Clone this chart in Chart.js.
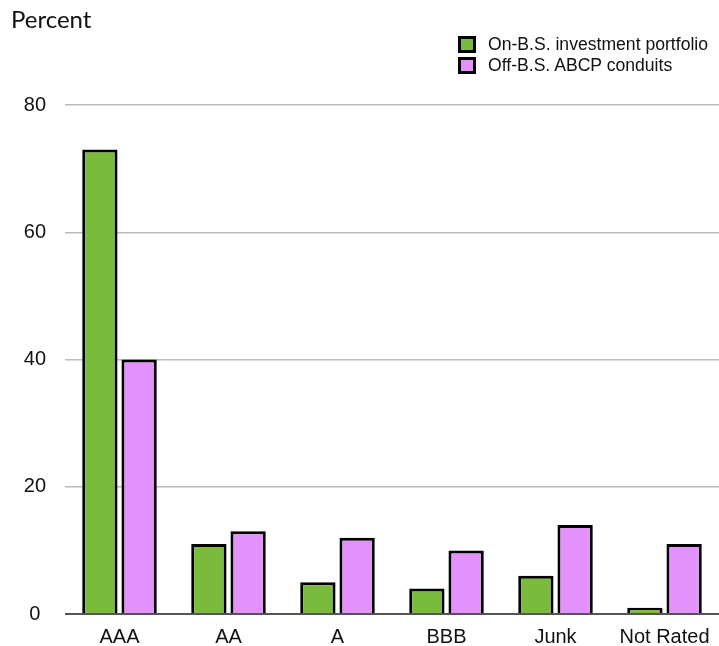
<!DOCTYPE html>
<html>
<head>
<meta charset="utf-8">
<script src="https://cdn.jsdelivr.net/npm/chart.js@4.4.1/dist/chart.umd.min.js"></script>
<style>
  html, body { margin: 0; padding: 0; background: #fff; }
  #wrap { position: relative; width: 719px; height: 646px; }
  #chart { position: absolute; left: 0; top: 0; }
  #ytitle {
    position: absolute; left: 11px; top: 4px;
    font-family: Lato, "Open Sans", sans-serif; font-size: 24px; color: #111;
  }
  #legend {
    position: absolute; left: 458px; top: 34px;
    font-family: "Liberation Sans", Arial, sans-serif; font-size: 17.6px; color: #111;
  }
  .item { display: flex; align-items: center; height: 21px; }
  .swatch {
    width: 12px; height: 11px; border: 3px solid #000; margin-right: 12px;
  }
</style>
</head>
<body>
<div id="wrap">
  <canvas id="chart" width="719" height="646"></canvas>
  <div id="ytitle">Percent</div>
  <div id="legend"></div>
</div>
<script>
// Credit rating buckets and the share of holdings in each
const ratings = ['AAA', 'AA', 'A', 'BBB', 'Junk', 'Not Rated'];
const onBalanceSheet = [73, 11, 5, 4, 6, 1];
const abcpConduits = [40, 13, 12, 10, 14, 11];
const yTicks = [0, 20, 40, 60, 80];

const seriesNames = ['On-B.S. investment portfolio', 'Off-B.S. ABCP conduits'];
const seriesColors = ['#7aba3c', '#e391fc'];

// Legend built from the series names and colours
const legend = document.getElementById('legend');
seriesNames.forEach((name, i) => {
    const row = document.createElement('div');
    row.className = 'item';
    const box = document.createElement('span');
    box.className = 'swatch';
    box.style.background = seriesColors[i];
    row.appendChild(box);
    row.appendChild(document.createTextNode(name));
    legend.appendChild(row);
});

const axisFont = { family: '"Liberation Sans", Arial, sans-serif', size: 20 };

const ctx = document.getElementById('chart').getContext('2d');
const chart = new Chart(ctx, {
    type: 'bar',
    data: {
        labels: ratings,
        datasets: [
            {
                label: seriesNames[0],
                data: onBalanceSheet,
                backgroundColor: seriesColors[0],
                borderColor: '#000',
                borderWidth: 3
            },
            {
                label: seriesNames[1],
                data: abcpConduits,
                backgroundColor: seriesColors[1],
                borderColor: '#000',
                borderWidth: 3
            }
        ]
    },
    options: {
        responsive: false,
        animation: false,
        layout: { padding: { top: 105, left: 0, right: 0, bottom: 0 } },
        datasets: {
            bar: { categoryPercentage: 0.72, barPercentage: 0.9 }
        },
        scales: {
            x: {
                grid: { display: false },
                border: { display: false },
                ticks: {
                    color: '#111',
                    padding: 3,
                    maxRotation: 0,
                    autoSkip: false,
                    font: axisFont
                },
                afterFit: scale => { scale.height = 32; }
            },
            y: {
                min: 0,
                max: 80,
                afterBuildTicks: scale => {
                    scale.ticks = yTicks.map(v => ({ value: v }));
                },
                afterFit: scale => { scale.width = 65; },
                border: { display: false },
                grid: {
                    drawTicks: false,
                    lineWidth: c => c.tick && c.tick.value === 0 ? 2 : 1.5,
                    color: c => c.tick && c.tick.value === 0 ? '#555' : '#bcbcbc'
                },
                ticks: {
                    color: '#111',
                    padding: 19,
                    crossAlign: 'center',
                    font: axisFont
                }
            }
        },
        plugins: {
            legend: { display: false },
            tooltip: { enabled: false }
        }
    }
});
</script>
</body>
</html>
